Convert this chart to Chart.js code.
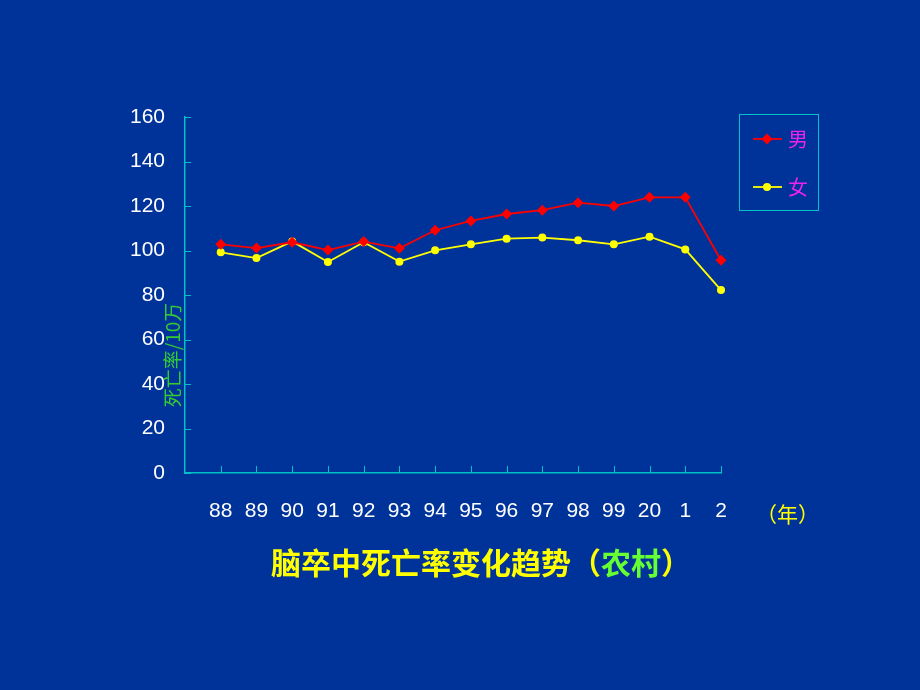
<!DOCTYPE html>
<html>
<head>
<meta charset="utf-8">
<script src="https://cdn.jsdelivr.net/npm/chart.js@4.4.0/dist/chart.umd.min.js"></script>
<style>
  html, body { margin: 0; padding: 0; background: #003399; }
  #wrap { width: 920px; height: 690px; position: relative; }
</style>
</head>
<body>
<div id="wrap"><canvas id="c" width="920" height="690"></canvas></div>
<script>
// ===== DATA =====
const years = ["88", "89", "90", "91", "92", "93", "94", "95", "96", "97", "98", "99", "20", "1", "2"];
const male = [102.8, 101.1, 103.7, 100.2, 104.0, 101.0, 109.1, 113.3, 116.4, 118.1, 121.5, 120.0, 123.9, 123.9, 95.6];
const female = [99.2, 96.6, 104.1, 94.8, 103.7, 95.0, 100.1, 102.8, 105.3, 105.8, 104.6, 102.8, 106.2, 100.5, 82.2];
const yTicks = [0, 20, 40, 60, 80, 100, 120, 140, 160];

const AXIS = "#00c0c8";
const RED = "#ff0000";
const YELLOW = "#ffff00";

// ===== EXTRA DRAWING (inward ticks, legend, texts) =====
const decorPlugin = {
    id: "decor",
    afterDraw(chart) {
        const ctx = chart.ctx;
        const xs = chart.scales.x, ys = chart.scales.y;
        const area = chart.chartArea;
        ctx.save();

        // tick marks pointing into the plot
        ctx.strokeStyle = AXIS;
        ctx.lineWidth = 1;
        yTicks.forEach(v => {
            const py = Math.round(ys.getPixelForValue(v)) + 0.5;
            ctx.beginPath();
            ctx.moveTo(area.left, py);
            ctx.lineTo(area.left + 6, py);
            ctx.stroke();
        });
        years.forEach((y, i) => {
            const px = Math.round(xs.getPixelForValue(i)) + 0.5;
            ctx.beginPath();
            ctx.moveTo(px, area.bottom);
            ctx.lineTo(px, area.bottom - 7);
            ctx.stroke();
        });

        // legend
        ctx.strokeStyle = AXIS;
        ctx.strokeRect(739.5, 114.5, 79, 96);
        const items = [
            { color: RED, y: 139, label: "男", style: "diamond" },
            { color: YELLOW, y: 187, label: "女", style: "circle" }
        ];
        items.forEach(it => {
            ctx.strokeStyle = it.color;
            ctx.lineWidth = 1.8;
            ctx.beginPath();
            ctx.moveTo(753, it.y);
            ctx.lineTo(782, it.y);
            ctx.stroke();
            ctx.fillStyle = it.color;
            ctx.beginPath();
            if (it.style === "diamond") {
                ctx.moveTo(767, it.y - 5.5);
                ctx.lineTo(772.5, it.y);
                ctx.lineTo(767, it.y + 5.5);
                ctx.lineTo(761.5, it.y);
                ctx.closePath();
            } else {
                ctx.arc(767, it.y, 4, 0, Math.PI * 2);
            }
            ctx.fill();
            ctx.fillStyle = "#ee22ee";
            ctx.font = "20px 'Noto Sans CJK SC'";
            ctx.textAlign = "left";
            ctx.textBaseline = "middle";
            ctx.fillText(it.label, 788, it.y);
        });

        // y axis title
        ctx.save();
        ctx.translate(173, 355);
        ctx.rotate(-Math.PI / 2);
        ctx.fillStyle = "#33cc33";
        ctx.font = "19px 'Noto Sans CJK SC'";
        ctx.textAlign = "center";
        ctx.textBaseline = "middle";
        ctx.fillText("死亡率/10万", 0, 0);
        ctx.restore();

        // unit
        ctx.fillStyle = YELLOW;
        ctx.font = "21px 'Noto Sans CJK SC'";
        ctx.textAlign = "left";
        ctx.textBaseline = "middle";
        ctx.fillText("（年）", 756, 514);

        // title
        const parts = [
            { t: "脑卒中死亡率变化趋势（", c: YELLOW },
            { t: "农村", c: "#66ff33" },
            { t: "）", c: YELLOW }
        ];
        ctx.font = "bold 30px 'Noto Sans CJK SC'";
        const total = parts.reduce((s, p) => s + ctx.measureText(p.t).width, 0);
        let x = 481 - total / 2;
        parts.forEach(p => {
            ctx.fillStyle = p.c;
            ctx.fillText(p.t, x, 563);
            x += ctx.measureText(p.t).width;
        });

        ctx.restore();
    }
};

// ===== CHART =====
function initChart() {
    const ctx = document.getElementById("c");
    new Chart(ctx, {
        type: "line",
        data: {
            datasets: [
                {
                    label: "男",
                    data: male.map((v, i) => ({ x: i, y: v })),
                    borderColor: RED,
                    backgroundColor: RED,
                    borderWidth: 1.8,
                    pointStyle: "rectRot",
                    pointRadius: 5.5,
                    pointBorderWidth: 0,
                    tension: 0,
                    clip: false
                },
                {
                    label: "女",
                    data: female.map((v, i) => ({ x: i, y: v })),
                    borderColor: YELLOW,
                    backgroundColor: YELLOW,
                    borderWidth: 1.8,
                    pointStyle: "circle",
                    pointRadius: 4,
                    pointBorderWidth: 0,
                    tension: 0,
                    clip: false
                }
            ]
        },
        options: {
            responsive: false,
            animation: false,
            layout: { padding: { left: 125, right: 199, top: 117, bottom: 157 } },
            plugins: {
                legend: { display: false },
                tooltip: { enabled: false }
            },
            scales: {
                x: {
                    type: "linear",
                    min: -1,
                    max: 14,
                    afterFit: s => { s.height = 60; },
                    afterBuildTicks: s => { s.ticks = years.map((y, i) => ({ value: i })); },
                    grid: { display: false, drawTicks: false },
                    border: { display: true, color: AXIS, width: 1.5 },
                    ticks: {
                        color: "#ffffff",
                        font: { family: "Arial, 'Liberation Sans'", size: 21 },
                        padding: 26,
                        maxRotation: 0,
                        autoSkip: false,
                        callback: v => years[v] ?? ""
                    }
                },
                y: {
                    min: 0,
                    max: 160,
                    afterFit: s => { s.width = 60; },
                    afterBuildTicks: s => { s.ticks = yTicks.map(v => ({ value: v })); },
                    grid: { display: false, drawTicks: false },
                    border: { display: true, color: AXIS, width: 1.5 },
                    ticks: {
                        color: "#ffffff",
                        font: { family: "Arial, 'Liberation Sans'", size: 21 },
                        padding: 20
                    }
                }
            }
        },
        plugins: [decorPlugin]
    });
}

document.addEventListener("DOMContentLoaded", initChart);
</script>
</body>
</html>
